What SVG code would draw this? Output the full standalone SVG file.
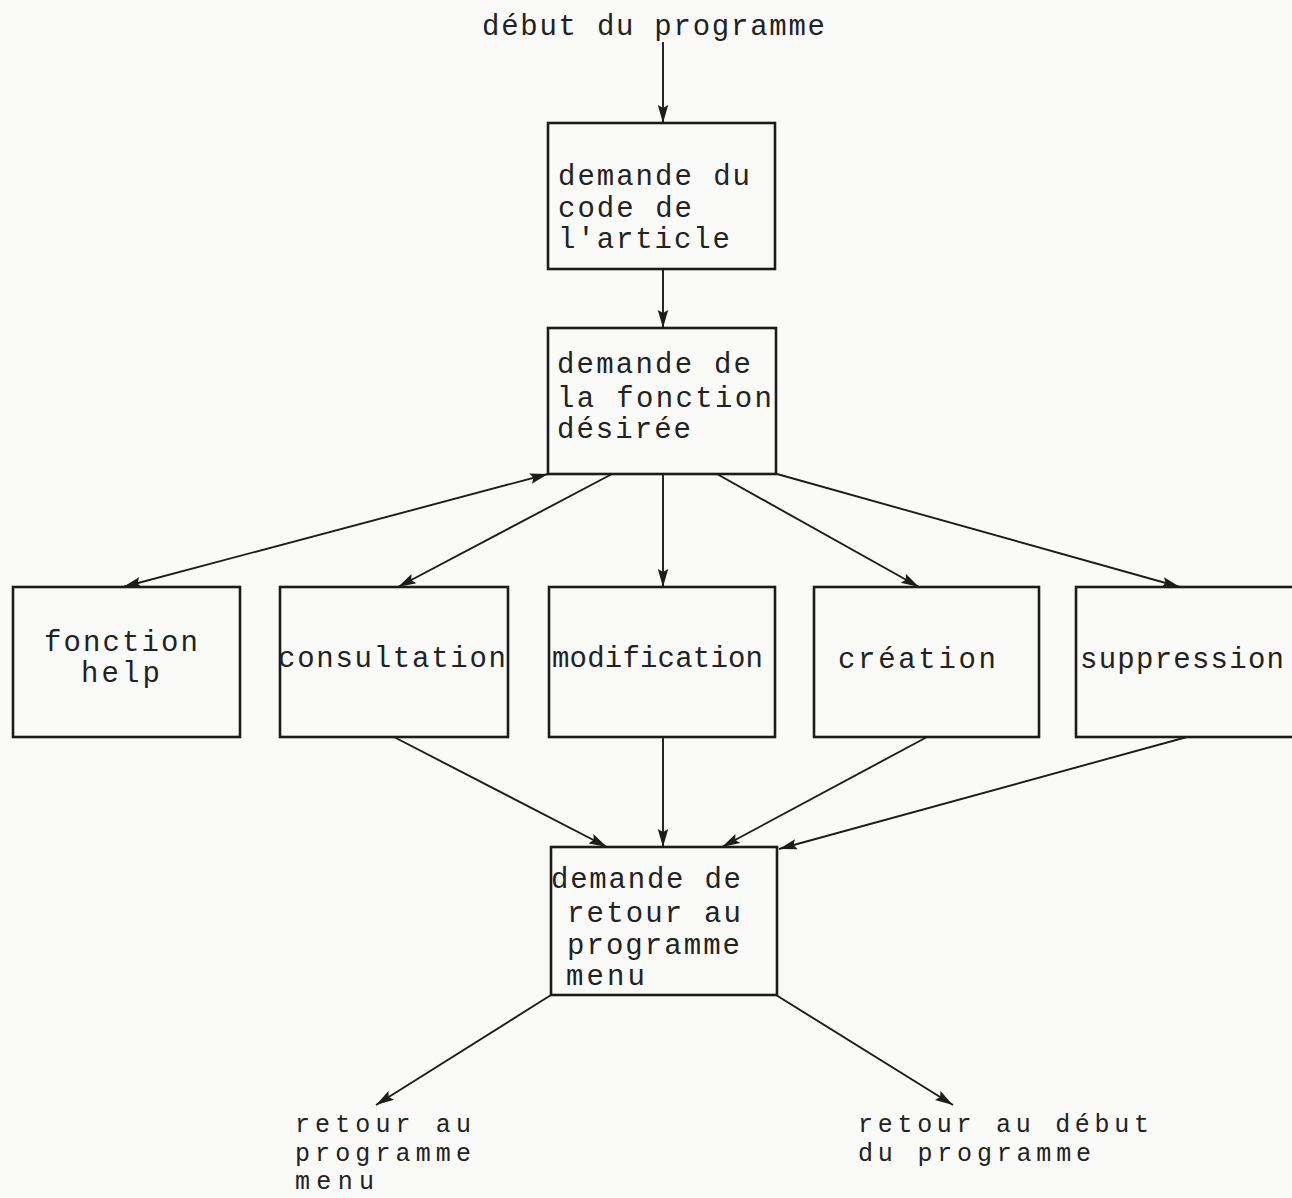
<svg xmlns="http://www.w3.org/2000/svg" width="1292" height="1198" viewBox="0 0 1292 1198">
<style>
.bg{fill:#fafaf8}
.box{fill:none;stroke:#1c1c1c;stroke-width:2.6}
.t{font-family:"Liberation Mono","DejaVu Sans Mono",monospace;font-size:29px;fill:#222}
.s{font-size:25px}
.c{fill:none;stroke:#1c1c1c;stroke-width:1.9;marker-end:url(#ah)}
.bi{marker-start:url(#ah)}
</style>
<defs>
<marker id="ah" markerUnits="userSpaceOnUse" markerWidth="20" markerHeight="12" refX="18" refY="6" orient="auto-start-reverse">
<path d="M0,0.8 L18,6 L0,11.2 L3,6 z" fill="#1c1c1c"/>
</marker>
</defs>
<rect class="bg" x="0" y="0" width="1292" height="1198"/>

<g id="start-label">
<text class="t" x="482" y="35" textLength="343" lengthAdjust="spacing">début du programme</text>
</g>

<g id="code-article">
<rect class="box" x="548" y="123" width="227" height="146"/>
<text class="t" x="558" y="185" textLength="192" lengthAdjust="spacing">demande du</text>
<text class="t" x="558" y="217" textLength="134" lengthAdjust="spacing">code de</text>
<text class="t" x="558" y="248" textLength="172" lengthAdjust="spacing">l'article</text>
</g>

<g id="fonction-desiree">
<rect class="box" x="548" y="328" width="228" height="146"/>
<text class="t" x="557" y="373" textLength="194" lengthAdjust="spacing">demande de</text>
<text class="t" x="557" y="407" textLength="215" lengthAdjust="spacing">la fonction</text>
<text class="t" x="557" y="438" textLength="134" lengthAdjust="spacing">désirée</text>
</g>

<g id="help">
<rect class="box" x="13" y="587" width="227" height="150"/>
<text class="t" x="44" y="651" textLength="154" lengthAdjust="spacing">fonction</text>
<text class="t" x="81" y="682" textLength="79" lengthAdjust="spacing">help</text>
</g>

<g id="consultation">
<rect class="box" x="280" y="587" width="228" height="150"/>
<text class="t" x="278" y="667" textLength="228" lengthAdjust="spacing">consultation</text>
</g>

<g id="modification">
<rect class="box" x="549" y="587" width="226" height="150"/>
<text class="t" x="552" y="667" textLength="211" lengthAdjust="spacing">modification</text>
</g>

<g id="creation">
<rect class="box" x="814" y="587" width="225" height="150"/>
<text class="t" x="838" y="668" textLength="158" lengthAdjust="spacing">création</text>
</g>

<g id="suppression">
<rect class="box" x="1076" y="587" width="240" height="150"/>
<text class="t" x="1080" y="668" textLength="204" lengthAdjust="spacing">suppression</text>
</g>

<g id="retour-menu-demande">
<rect class="box" x="551" y="847" width="226" height="148"/>
<text class="t" x="551" y="888" textLength="190" lengthAdjust="spacing">demande de</text>
<text class="t" x="567" y="922" textLength="174" lengthAdjust="spacing">retour au</text>
<text class="t" x="567" y="954" textLength="173" lengthAdjust="spacing">programme</text>
<text class="t" x="566" y="985" textLength="79" lengthAdjust="spacing">menu</text>
</g>

<g id="retour-menu">
<text class="t s" x="295" y="1132" textLength="176" lengthAdjust="spacing">retour au</text>
<text class="t s" x="295" y="1161" textLength="176" lengthAdjust="spacing">programme</text>
<text class="t s" x="295" y="1189" textLength="79" lengthAdjust="spacing">menu</text>
</g>

<g id="retour-debut">
<text class="t s" x="858" y="1132" textLength="291" lengthAdjust="spacing">retour au début</text>
<text class="t s" x="858" y="1161" textLength="233" lengthAdjust="spacing">du programme</text>
</g>

<g id="connectors">
<line class="c" x1="663" y1="42" x2="663" y2="123"/>
<line class="c" x1="663" y1="270" x2="663" y2="328"/>
<line class="c bi" x1="548" y1="474" x2="123" y2="587"/>
<line class="c" x1="612" y1="474" x2="398" y2="587"/>
<line class="c" x1="663" y1="474" x2="663" y2="587"/>
<line class="c" x1="717" y1="474" x2="919" y2="587"/>
<line class="c" x1="777" y1="474" x2="1180" y2="587"/>
<line class="c" x1="394" y1="737" x2="607" y2="847"/>
<line class="c" x1="663" y1="737" x2="663" y2="847"/>
<line class="c" x1="927" y1="737" x2="722" y2="847"/>
<line class="c" x1="1187" y1="737" x2="779" y2="849"/>
<line class="c" x1="551" y1="995" x2="376" y2="1105"/>
<line class="c" x1="776" y1="995" x2="953" y2="1105"/>
</g>
</svg>
